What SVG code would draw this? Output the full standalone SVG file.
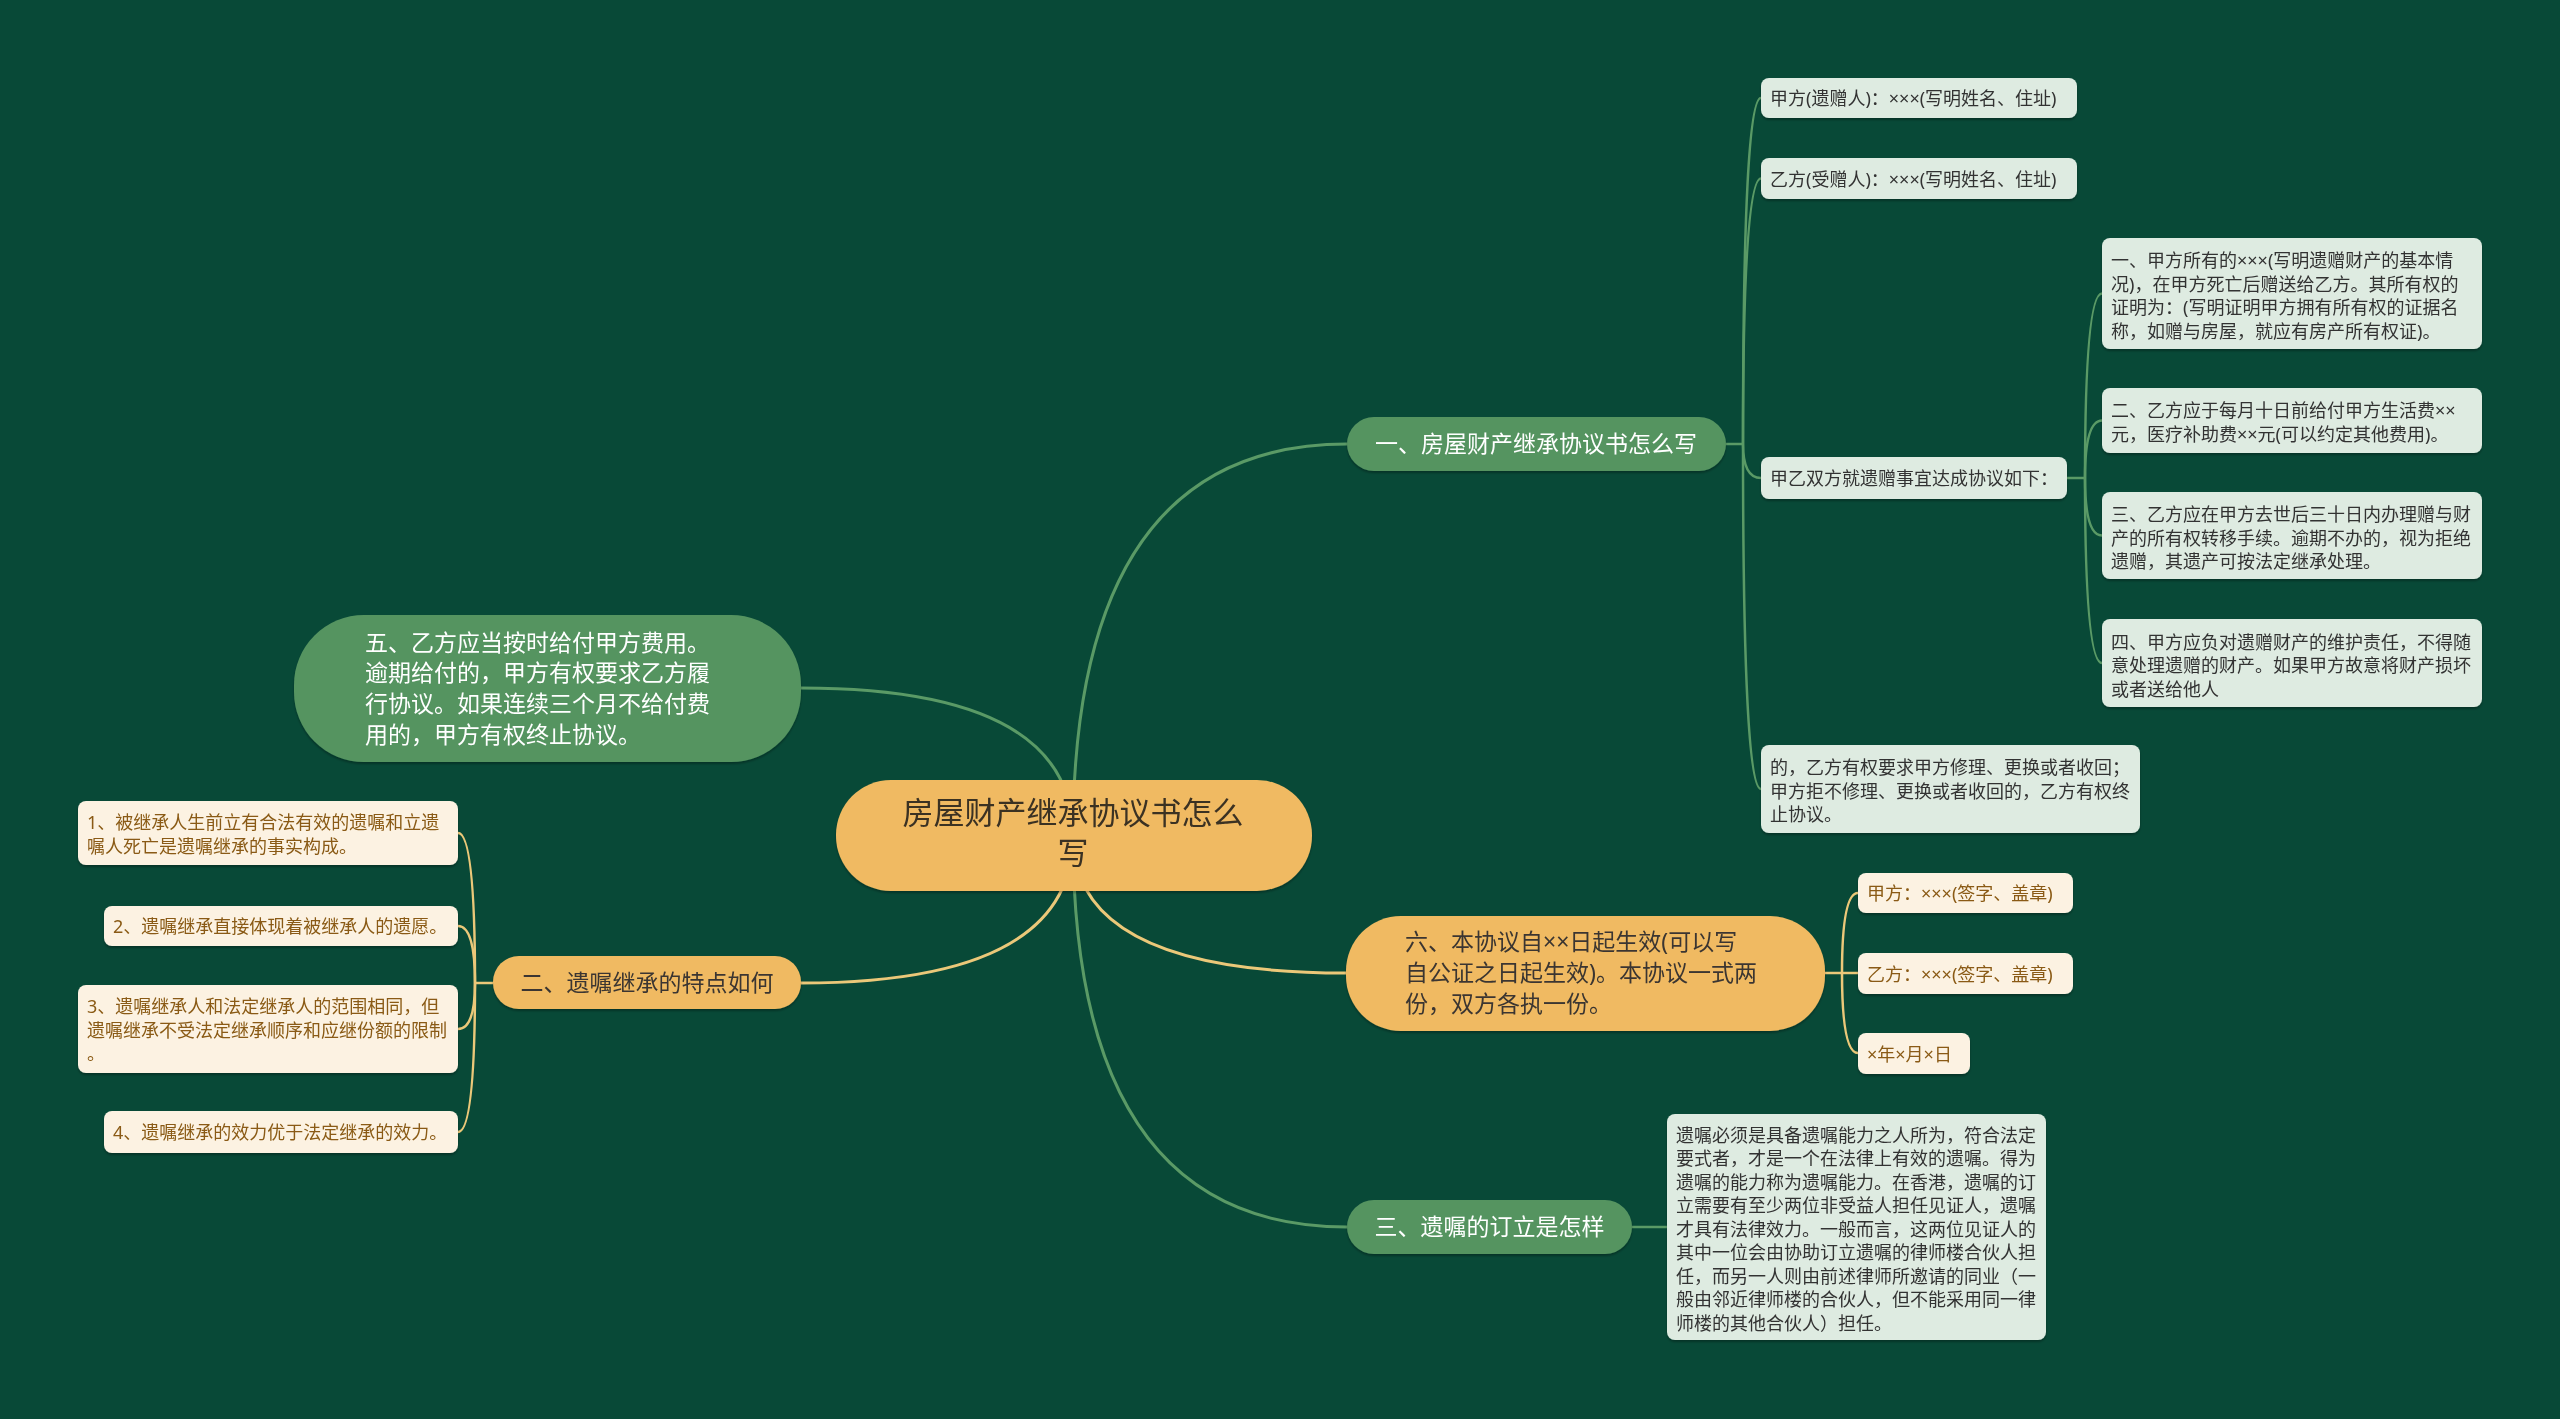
<svg xmlns="http://www.w3.org/2000/svg" width="2560" height="1419" viewBox="0 0 2560 1419">
<defs>
<filter id="sh" x="-5%" y="-10%" width="110%" height="130%">
<feDropShadow dx="0" dy="2" stdDeviation="1" flood-color="#000" flood-opacity="0.3"/>
</filter>
<style>
text{font-family:"Noto Sans","Noto Sans CJK SC",sans-serif;dominant-baseline:central}
.c{fill:#F0BA62}
.g{fill:#559461}
.y{fill:#F0BA62}
.l{fill:#DEEBE1}
.k{fill:#FCF2E2}
.tc{font-size:31px;fill:#3A3024;text-anchor:middle}
.tg{font-size:23px;fill:#FFFFFF}
.ty{font-size:23px;fill:#3A3530}
.tl{font-size:18px;fill:#333333}
.tk{font-size:18px;fill:#8A5A14}
.mid{text-anchor:middle}
.eg{fill:none;stroke:#5A9A66;stroke-width:3}
.ey{fill:none;stroke:#EBC879;stroke-width:3}
.sg{fill:none;stroke:#5A9A66;stroke-width:2.5}
.sy{fill:none;stroke:#EBC879;stroke-width:2.5}
</style>
</defs>
<rect x="0" y="0" width="2560" height="1419" fill="#084937"/>
<g id="connectors">
<path class="eg" d="M1073 836 Q1073 688 801 688"/>
<path class="eg" d="M1073 836 Q1073 444 1347 444"/>
<path class="eg" d="M1073 836 Q1073 1227 1347 1227"/>
<path class="ey" d="M1073 836 Q1073 983 801 983"/>
<path class="ey" d="M1073 836 Q1073 973 1346 973"/>
<path class="sg" d="M1726 444 L1743 444"/>
<path class="sg" d="M1743 444 Q1743 98 1761 98"/>
<path class="sg" d="M1743 444 Q1743 178.5 1761 178.5"/>
<path class="sg" d="M1743 444 Q1743 478 1761 478"/>
<path class="sg" d="M1743 444 Q1743 789 1761 789"/>
<path class="sg" d="M2067 478 L2085 478"/>
<path class="sg" d="M2085 478 Q2085 293.5 2102 293.5"/>
<path class="sg" d="M2085 478 Q2085 420.5 2102 420.5"/>
<path class="sg" d="M2085 478 Q2085 535.5 2102 535.5"/>
<path class="sg" d="M2085 478 Q2085 663 2102 663"/>
<path class="sg" d="M1632 1227 L1667 1227"/>
<path class="sy" d="M1825 973 L1858 973"/>
<path class="sy" d="M1842 973 Q1842 893 1858 893"/>
<path class="sy" d="M1842 973 Q1842 1053 1858 1053"/>
<path class="sy" d="M493 983 L475 983"/>
<path class="sy" d="M475 983 Q475 833 458 833"/>
<path class="sy" d="M475 983 Q475 926 458 926"/>
<path class="sy" d="M475 983 Q475 1029 458 1029"/>
<path class="sy" d="M475 983 Q475 1132 458 1132"/>
</g>
<g id="root" filter="url(#sh)">
<rect class="c" x="836" y="780" width="476" height="111" rx="55"/>
<text class="tc" x="1073" y="812">房屋财产继承协议书怎么</text>
<text class="tc" x="1073" y="852">写</text>
</g>
<g id="n5" filter="url(#sh)">
<rect class="g" x="294" y="615" width="507" height="147" rx="70"/>
<text class="tg" x="365" y="642">五、乙方应当按时给付甲方费用。</text>
<text class="tg" x="365" y="672">逾期给付的，甲方有权要求乙方履</text>
<text class="tg" x="365" y="703">行协议。如果连续三个月不给付费</text>
<text class="tg" x="365" y="734">用的，甲方有权终止协议。</text>
</g>
<g id="n1" filter="url(#sh)">
<rect class="g" x="1347" y="417" width="379" height="54" rx="27"/>
<text class="tg mid" x="1536" y="443">一、房屋财产继承协议书怎么写</text>
</g>
<g id="n2" filter="url(#sh)">
<rect class="y" x="493" y="956" width="308" height="53" rx="26"/>
<text class="ty mid" x="647" y="982">二、遗嘱继承的特点如何</text>
</g>
<g id="n6" filter="url(#sh)">
<rect class="y" x="1346" y="916" width="479" height="115" rx="55"/>
<text class="ty" x="1405" y="941">六、本协议自××日起生效(可以写</text>
<text class="ty" x="1405" y="972">自公证之日起生效)。本协议一式两</text>
<text class="ty" x="1405" y="1003">份，双方各执一份。</text>
</g>
<g id="n3" filter="url(#sh)">
<rect class="g" x="1347" y="1200" width="285" height="54" rx="27"/>
<text class="tg mid" x="1489.5" y="1226">三、遗嘱的订立是怎样</text>
</g>
<g id="a1" filter="url(#sh)">
<rect class="l" x="1761" y="78" width="316" height="40" rx="8"/>
<text class="tl" x="1770" y="98">甲方(遗赠人)：×××(写明姓名、住址)</text>
</g>
<g id="a2" filter="url(#sh)">
<rect class="l" x="1761" y="158" width="316" height="41" rx="8"/>
<text class="tl" x="1770" y="178.5">乙方(受赠人)：×××(写明姓名、住址)</text>
</g>
<g id="a3" filter="url(#sh)">
<rect class="l" x="1761" y="457" width="306" height="42" rx="8"/>
<text class="tl" x="1770" y="478">甲乙双方就遗赠事宜达成协议如下：</text>
</g>
<g id="a4" filter="url(#sh)">
<rect class="l" x="1761" y="745" width="379" height="88" rx="8"/>
<text class="tl" x="1770" y="767">的，乙方有权要求甲方修理、更换或者收回；</text>
<text class="tl" x="1770" y="790.5">甲方拒不修理、更换或者收回的，乙方有权终</text>
<text class="tl" x="1770" y="814">止协议。</text>
</g>
<g id="b1" filter="url(#sh)">
<rect class="l" x="2102" y="238" width="380" height="111" rx="8"/>
<text class="tl" x="2111" y="260">一、甲方所有的×××(写明遗赠财产的基本情</text>
<text class="tl" x="2111" y="283.5">况)，在甲方死亡后赠送给乙方。其所有权的</text>
<text class="tl" x="2111" y="307">证明为：(写明证明甲方拥有所有权的证据名</text>
<text class="tl" x="2111" y="330.5">称，如赠与房屋，就应有房产所有权证)。</text>
</g>
<g id="b2" filter="url(#sh)">
<rect class="l" x="2102" y="388" width="380" height="65" rx="8"/>
<text class="tl" x="2111" y="410">二、乙方应于每月十日前给付甲方生活费××</text>
<text class="tl" x="2111" y="433.5">元，医疗补助费××元(可以约定其他费用)。</text>
</g>
<g id="b3" filter="url(#sh)">
<rect class="l" x="2102" y="492" width="380" height="87" rx="8"/>
<text class="tl" x="2111" y="514">三、乙方应在甲方去世后三十日内办理赠与财</text>
<text class="tl" x="2111" y="537.5">产的所有权转移手续。逾期不办的，视为拒绝</text>
<text class="tl" x="2111" y="561">遗赠，其遗产可按法定继承处理。</text>
</g>
<g id="b4" filter="url(#sh)">
<rect class="l" x="2102" y="619" width="380" height="88" rx="8"/>
<text class="tl" x="2111" y="641.5">四、甲方应负对遗赠财产的维护责任，不得随</text>
<text class="tl" x="2111" y="665">意处理遗赠的财产。如果甲方故意将财产损坏</text>
<text class="tl" x="2111" y="688.5">或者送给他人</text>
</g>
<g id="c1" filter="url(#sh)">
<rect class="l" x="1667" y="1114" width="379" height="226" rx="8"/>
<text class="tl" x="1676" y="1134.5">遗嘱必须是具备遗嘱能力之人所为，符合法定</text>
<text class="tl" x="1676" y="1158">要式者，才是一个在法律上有效的遗嘱。得为</text>
<text class="tl" x="1676" y="1181.5">遗嘱的能力称为遗嘱能力。在香港，遗嘱的订</text>
<text class="tl" x="1676" y="1205">立需要有至少两位非受益人担任见证人，遗嘱</text>
<text class="tl" x="1676" y="1228.5">才具有法律效力。一般而言，这两位见证人的</text>
<text class="tl" x="1676" y="1252">其中一位会由协助订立遗嘱的律师楼合伙人担</text>
<text class="tl" x="1676" y="1275.5">任，而另一人则由前述律师所邀请的同业（一</text>
<text class="tl" x="1676" y="1299">般由邻近律师楼的合伙人，但不能采用同一律</text>
<text class="tl" x="1676" y="1322.5">师楼的其他合伙人）担任。</text>
</g>
<g id="d1" filter="url(#sh)">
<rect class="k" x="78" y="801" width="380" height="64" rx="8"/>
<text class="tk" x="87" y="822">1、被继承人生前立有合法有效的遗嘱和立遗</text>
<text class="tk" x="87" y="845.5">嘱人死亡是遗嘱继承的事实构成。</text>
</g>
<g id="d2" filter="url(#sh)">
<rect class="k" x="104" y="906" width="354" height="40" rx="8"/>
<text class="tk" x="113" y="926">2、遗嘱继承直接体现着被继承人的遗愿。</text>
</g>
<g id="d3" filter="url(#sh)">
<rect class="k" x="78" y="985" width="380" height="88" rx="8"/>
<text class="tk" x="87" y="1006">3、遗嘱继承人和法定继承人的范围相同，但</text>
<text class="tk" x="87" y="1029.5">遗嘱继承不受法定继承顺序和应继份额的限制</text>
<text class="tk" x="87" y="1053">。</text>
</g>
<g id="d4" filter="url(#sh)">
<rect class="k" x="104" y="1111" width="354" height="42" rx="8"/>
<text class="tk" x="113" y="1132">4、遗嘱继承的效力优于法定继承的效力。</text>
</g>
<g id="e1" filter="url(#sh)">
<rect class="k" x="1858" y="873" width="215" height="40" rx="8"/>
<text class="tk" x="1867" y="893">甲方：×××(签字、盖章)</text>
</g>
<g id="e2" filter="url(#sh)">
<rect class="k" x="1858" y="953" width="215" height="41" rx="8"/>
<text class="tk" x="1867" y="973.5">乙方：×××(签字、盖章)</text>
</g>
<g id="e3" filter="url(#sh)">
<rect class="k" x="1858" y="1033" width="112" height="41" rx="8"/>
<text class="tk" x="1867" y="1053.5">×年×月×日</text>
</g>
</svg>
